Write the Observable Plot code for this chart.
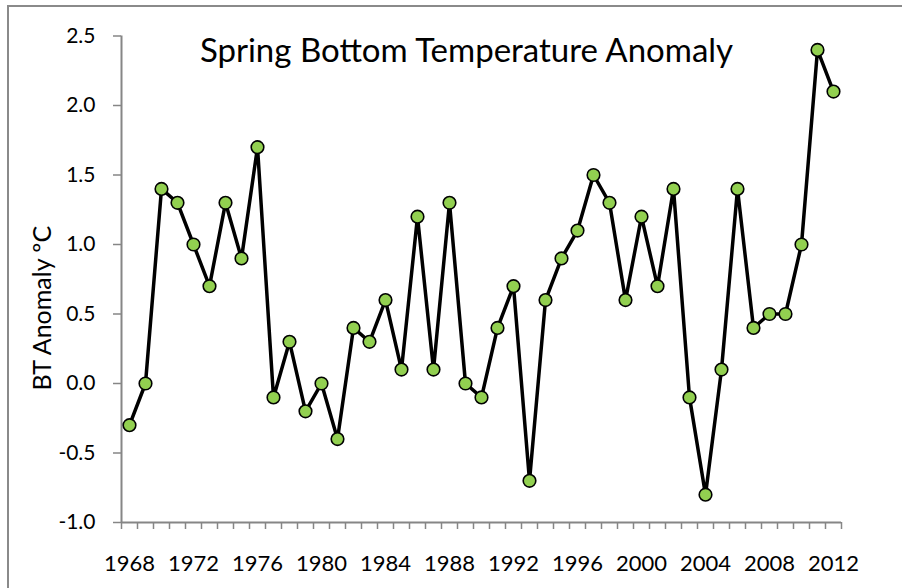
<!DOCTYPE html>
<html>
<head>
<meta charset="utf-8">
<script src="https://cdn.jsdelivr.net/npm/d3@7"></script>
<script src="https://cdn.jsdelivr.net/npm/@observablehq/plot@0.6"></script>
<style>
  html, body { margin: 0; padding: 0; background: #fff; overflow: hidden; }
  #wrap { position: relative; width: 902px; height: 588px; overflow: hidden; }
  #frame { position: absolute; left: 7px; top: 5px; width: 1000px; height: 1000px;
           border-left: 2px solid #8a8a8a; border-top: 2px solid #8a8a8a; box-sizing: border-box; pointer-events: none; }
  #chart { position: absolute; left: 0; top: 0; }
</style>
</head>
<body>
<div id="wrap"><div id="chart"></div><div id="frame"></div></div>
<script>
const title = "Spring Bottom Temperature Anomaly";
const yLabel = "BT Anomaly \u00BAC";
const years = [1968, 1969, 1970, 1971, 1972, 1973, 1974, 1975, 1976, 1977, 1978, 1979, 1980, 1981, 1982,
  1983, 1984, 1985, 1986, 1987, 1988, 1989, 1990, 1991, 1992, 1993, 1994, 1995, 1996, 1997,
  1998, 1999, 2000, 2001, 2002, 2003, 2004, 2005, 2006, 2007, 2008, 2009, 2010, 2011, 2012];
const anomaly = [-0.3, 0.0, 1.4, 1.3, 1.0, 0.7, 1.3, 0.9, 1.7, -0.1, 0.3, -0.2, 0.0, -0.4, 0.4,
  0.3, 0.6, 0.1, 1.2, 0.1, 1.3, 0.0, -0.1, 0.4, 0.7, -0.7, 0.6, 0.9, 1.1, 1.5,
  1.3, 0.6, 1.2, 0.7, 1.4, -0.1, -0.8, 0.1, 1.4, 0.4, 0.5, 0.5, 1.0, 2.4, 2.1];
const xTickLabels = [1968, 1972, 1976, 1980, 1984, 1988, 1992, 1996, 2000, 2004, 2008, 2012];
const yTicks = [-1.0, -0.5, 0.0, 0.5, 1.0, 1.5, 2.0, 2.5];

const data = years.map((year, i) => ({year, value: anomaly[i]}));
const boundaries = years.map(y => y - 0.5).concat([years[years.length - 1] + 0.5]);
const axisColor = "#868686";
const font = "Lato, 'Open Sans', sans-serif";

const chart = Plot.plot({
  width: 902,
  height: 588,
  marginLeft: 121,
  marginRight: 61,
  marginTop: 35.5,
  marginBottom: 66,
  style: {fontFamily: font, fontSize: "21px", color: "#000", background: "transparent"},
  x: {domain: [boundaries[0], boundaries[boundaries.length - 1]]},
  y: {domain: [yTicks[0], yTicks[yTicks.length - 1]]},
  marks: [
    Plot.axisY({ticks: yTicks, tickFormat: d => d.toFixed(1), tickSize: 8, tickPadding: 18,
      fontSize: 21, stroke: axisColor, strokeWidth: 1.5, label: null}),
    Plot.axisX({ticks: boundaries, tickFormat: () => "", tickSize: 7, stroke: axisColor, strokeWidth: 1.5, label: null}),
    Plot.axisX({ticks: xTickLabels, tickFormat: d => String(d), tickSize: 0, tickPadding: 33,
      fontSize: 22, label: null}),
    Plot.ruleY([yTicks[0]], {stroke: axisColor, strokeWidth: 2}),
    Plot.ruleX([boundaries[0]], {stroke: axisColor, strokeWidth: 2}),
    Plot.line(data, {x: "year", y: "value", stroke: "#000", strokeWidth: 3.5, strokeLinejoin: "miter"}),
    Plot.dot(data, {x: "year", y: "value", r: 6.3, fill: "#92D050", stroke: "#000", strokeWidth: 1.6}),
    Plot.text([title], {frameAnchor: "top", lineAnchor: "top", textAnchor: "middle", dx: -15, dy: 3, fontSize: 33, fill: "#000"}),
    Plot.text([yLabel], {frameAnchor: "left", textAnchor: "middle", lineAnchor: "middle", rotate: -90, dx: -79, dy: 29, fontSize: 25, fill: "#000"})
  ]
});
document.getElementById("chart").appendChild(chart);
</script>
</body>
</html>
